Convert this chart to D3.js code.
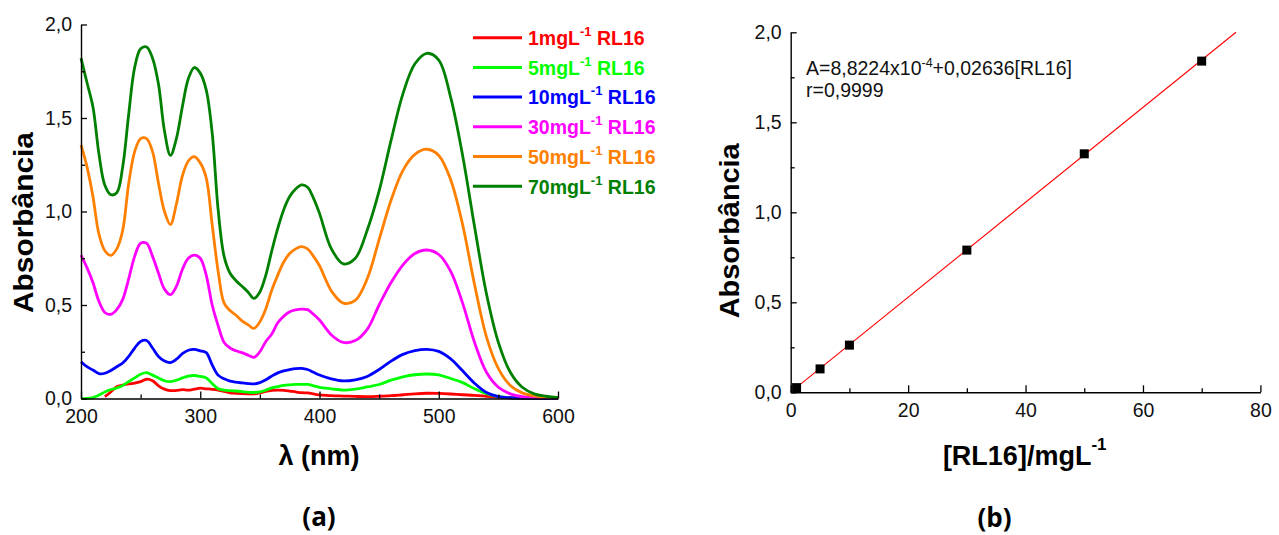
<!DOCTYPE html>
<html><head><meta charset="utf-8">
<script src="https://cdn.jsdelivr.net/npm/d3@7"></script>
<style>body{margin:0;background:#fff}svg{display:block}</style>
</head><body>
<svg id="c" width="1279" height="535"></svg>
<script>
// ---------- data ----------
const wavelengths = [200,205,210,215,220,225,230,235,240,245,250,255,260,265,270,275,280,285,290,295,
  300,305,310,315,320,325,330,335,340,345,350,355,360,365,370,375,380,385,390,395,
  400,410,420,430,440,450,460,470,480,490,500,510,520,530,540,550,560,570,580,590,600];
const abs1 = [null,null,null,null,0.010,0.035,0.063,0.072,0.078,0.082,0.090,0.103,0.095,0.068,0.050,0.042,0.043,0.047,0.045,0.050,
  0.055,0.052,0.049,0.045,0.038,0.030,0.028,0.026,0.025,0.025,0.030,0.038,0.043,0.045,0.044,0.040,0.035,0.031,0.030,0.025,
  0.019,0.015,0.013,0.011,0.010,0.012,0.015,0.020,0.025,0.028,0.027,0.024,0.020,0.017,0.012,0.007,0.003,0.001,0.000,0.000,0.000];
const abs5 = [0.000,0.000,0.005,0.018,0.035,0.048,0.056,0.070,0.090,0.110,0.130,0.138,0.125,0.110,0.095,0.090,0.098,0.110,0.120,0.123,
  0.118,0.110,0.080,0.052,0.045,0.042,0.040,0.037,0.034,0.032,0.035,0.045,0.057,0.064,0.070,0.073,0.075,0.076,0.075,0.068,
  0.060,0.052,0.045,0.050,0.062,0.075,0.098,0.116,0.127,0.131,0.126,0.107,0.085,0.052,0.026,0.010,0.004,0.002,0.001,0.000,0.000];
const abs10 = [0.197,0.170,0.152,0.133,0.135,0.150,0.170,0.190,0.225,0.270,0.305,0.310,0.270,0.225,0.200,0.192,0.210,0.240,0.258,0.263,
  0.255,0.245,0.180,0.125,0.105,0.093,0.088,0.083,0.080,0.078,0.085,0.100,0.120,0.137,0.148,0.155,0.160,0.161,0.155,0.140,
  0.126,0.105,0.094,0.100,0.118,0.155,0.200,0.236,0.256,0.263,0.252,0.212,0.148,0.082,0.032,0.010,0.004,0.002,0.001,0.000,0.000];
const abs30 = [0.767,0.700,0.620,0.520,0.460,0.450,0.475,0.530,0.640,0.760,0.830,0.830,0.760,0.670,0.585,0.555,0.600,0.690,0.750,0.767,
  0.750,0.660,0.500,0.390,0.300,0.270,0.255,0.245,0.232,0.220,0.250,0.305,0.345,0.405,0.440,0.464,0.474,0.478,0.475,0.450,
  0.420,0.340,0.300,0.310,0.370,0.500,0.620,0.715,0.775,0.794,0.770,0.680,0.510,0.300,0.140,0.060,0.025,0.010,0.005,0.003,0.002];
const abs50 = [1.356,1.240,1.080,0.880,0.790,0.765,0.800,0.900,1.150,1.320,1.390,1.390,1.320,1.150,1.000,0.930,1.040,1.190,1.270,1.293,
  1.260,1.180,0.930,0.680,0.510,0.470,0.445,0.415,0.395,0.375,0.410,0.480,0.580,0.660,0.730,0.775,0.800,0.812,0.800,0.760,
  0.710,0.575,0.510,0.525,0.640,0.850,1.060,1.220,1.305,1.333,1.300,1.170,0.930,0.610,0.330,0.160,0.070,0.030,0.014,0.007,0.004];
const abs70 = [1.820,1.690,1.560,1.310,1.140,1.090,1.100,1.240,1.520,1.770,1.870,1.880,1.820,1.680,1.430,1.300,1.390,1.560,1.710,1.770,
  1.740,1.650,1.420,1.010,0.760,0.670,0.630,0.600,0.570,0.535,0.570,0.660,0.790,0.910,1.010,1.080,1.120,1.142,1.130,1.070,
  0.990,0.800,0.720,0.750,0.900,1.110,1.380,1.630,1.790,1.846,1.810,1.610,1.300,0.920,0.560,0.300,0.140,0.060,0.025,0.012,0.005];
const legendConc = ["1","5","10","30","50","70"];
const seriesColors = ["#ff0000","#00ff00","#0000ff","#ff00ff","#ff8000","#008000"];
const concentrations = [1,5,10,30,50,70];
const calibAbs = [0.026,0.130,0.262,0.790,1.325,1.840];
const fitIntercept = 8.8224e-4, fitSlope = 0.02636;
const yTicks = [0,0.5,1,1.5,2], yMinor = [0.25,0.75,1.25,1.75];
const xTicksA = [200,300,400,500,600], xMinorA = [250,350,450,550];
const xTicksB = [0,20,40,60,80], xMinorB = [10,30,50,70];

// ---------- drawing ----------
const svg = d3.select("#c");
const FONT = "'Liberation Sans', Arial, sans-serif";
const fmt = v => d3.format(".1f")(v).replace(".", ",");

function axes(g, x, y, xt, xm, yt, ym, xfmt) {
  const [x0] = x.range(), [y0] = y.range();
  g.append("g").attr("transform", `translate(0,${y0})`)
    .call(d3.axisBottom(x).tickValues(xt).tickSize(-7).tickSizeOuter(0).tickPadding(11).tickFormat(xfmt));
  g.append("g").attr("transform", `translate(0,${y0})`)
    .call(d3.axisBottom(x).tickValues(xm).tickSize(-4).tickSizeOuter(0).tickFormat(""))
    .select(".domain").remove();
  g.append("g").attr("transform", `translate(${x0},0)`)
    .call(d3.axisLeft(y).tickValues(yt).tickSize(-6).tickSizeOuter(0).tickPadding(9).tickFormat(fmt));
  g.append("g").attr("transform", `translate(${x0},0)`)
    .call(d3.axisLeft(y).tickValues(ym).tickSize(-4).tickSizeOuter(0).tickFormat(""))
    .select(".domain").remove();
  g.selectAll(".domain").attr("stroke", "#000").attr("stroke-width", 1.4);
  g.selectAll(".tick line").attr("stroke", "#000").attr("stroke-width", 1.3);
  g.selectAll(".tick text").attr("font-family", FONT).attr("font-size", 19.5).attr("fill", "#111");
}

// ---- panel (a)
const xA = d3.scaleLinear().domain([200, 600]).range([81, 558]);
const yA = d3.scaleLinear().domain([0, 2]).range([398.5, 24.5]);
const gA = svg.append("g");
const allSeries = [abs1, abs5, abs10, abs30, abs50, abs70];
const line = d3.line().defined(d => d[1] !== null)
  .x(d => xA(d[0])).y(d => yA(d[1])).curve(d3.curveCatmullRom.alpha(0.5));
allSeries.forEach((s, i) => {
  gA.append("path").datum(wavelengths.map((w, j) => [w, s[j]]))
    .attr("d", line).attr("fill", "none").attr("stroke", seriesColors[i])
    .attr("stroke-width", 2.8).attr("stroke-linejoin", "round");
});
axes(gA, xA, yA, xTicksA, xMinorA, yTicks, yMinor, d3.format("d"));

// legend
const leg = gA.append("g");
legendConc.forEach((c, i) => {
  const ry = 37.7 + i * 29.7;
  leg.append("line").attr("x1", 473).attr("x2", 522).attr("y1", ry).attr("y2", ry)
    .attr("stroke", seriesColors[i]).attr("stroke-width", 3);
  const t = leg.append("text").attr("x", 528).attr("y", ry + 7.3)
    .attr("font-family", FONT).attr("font-weight", "bold").attr("font-size", 19.5)
    .attr("fill", seriesColors[i]);
  t.append("tspan").text(c + "mgL");
  t.append("tspan").attr("dy", -9).attr("font-size", 13).text("-1");
  t.append("tspan").attr("dy", 9).text(" RL16");
});

// titles (a)
svg.append("text").attr("transform", "translate(33,222.5) rotate(-90)")
  .attr("text-anchor", "middle").attr("font-family", FONT).attr("font-weight", "bold")
  .attr("font-size", 28).attr("textLength", 181).attr("lengthAdjust", "spacingAndGlyphs")
  .text("Absorbância");
svg.append("text").attr("x", 319).attr("y", 465).attr("text-anchor", "middle")
  .attr("font-family", FONT).attr("font-weight", "bold").attr("font-size", 27).text("λ (nm)");
svg.append("text").attr("x", 319).attr("y", 526).attr("text-anchor", "middle")
  .attr("font-family", "'Open Sans', Lato, sans-serif").attr("font-weight", "bold").attr("font-size", 26).text("(a)");

// ---- panel (b)
const xB = d3.scaleLinear().domain([0, 80]).range([790.7, 1260.4]);
const yB = d3.scaleLinear().domain([0, 2]).range([392.3, 32.3]);
const gB = svg.append("g");
const cMax = (2 - fitIntercept) / fitSlope;
gB.append("line").attr("x1", xB(0)).attr("y1", yB(fitIntercept))
  .attr("x2", xB(cMax)).attr("y2", yB(fitIntercept + fitSlope * cMax))
  .attr("stroke", "#ff0000").attr("stroke-width", 1.1);
gB.selectAll("rect.pt").data(concentrations).join("rect").attr("class", "pt")
  .attr("x", (d) => xB(d) - 4.5).attr("y", (d, i) => yB(calibAbs[i]) - 4.5)
  .attr("width", 9).attr("height", 9).attr("fill", "#000");
axes(gB, xB, yB, xTicksB, xMinorB, yTicks, yMinor, d3.format("d"));

const eq = gB.append("text").attr("x", 806).attr("y", 75)
  .attr("font-family", FONT).attr("font-size", 19.5).attr("fill", "#111");
eq.append("tspan").text("A=8,8224x10");
eq.append("tspan").attr("dy", -8).attr("font-size", 12.5).text("-4");
eq.append("tspan").attr("dy", 8).text("+0,02636[RL16]");
gB.append("text").attr("x", 806).attr("y", 97)
  .attr("font-family", FONT).attr("font-size", 19.5).attr("fill", "#111").text("r=0,9999");

svg.append("text").attr("transform", "translate(739,230.8) rotate(-90)")
  .attr("text-anchor", "middle").attr("font-family", FONT).attr("font-weight", "bold")
  .attr("font-size", 28).attr("textLength", 175).attr("lengthAdjust", "spacingAndGlyphs")
  .text("Absorbância");
const xt = svg.append("text").attr("x", 1024.7).attr("y", 465).attr("text-anchor", "middle")
  .attr("font-family", FONT).attr("font-weight", "bold").attr("font-size", 27);
xt.append("tspan").text("[RL16]/mgL");
xt.append("tspan").attr("dy", -15).attr("font-size", 17).text("-1");
svg.append("text").attr("x", 994.5).attr("y", 527).attr("text-anchor", "middle")
  .attr("font-family", "'Open Sans', Lato, sans-serif").attr("font-weight", "bold").attr("font-size", 26).text("(b)");
</script>
</body></html>
